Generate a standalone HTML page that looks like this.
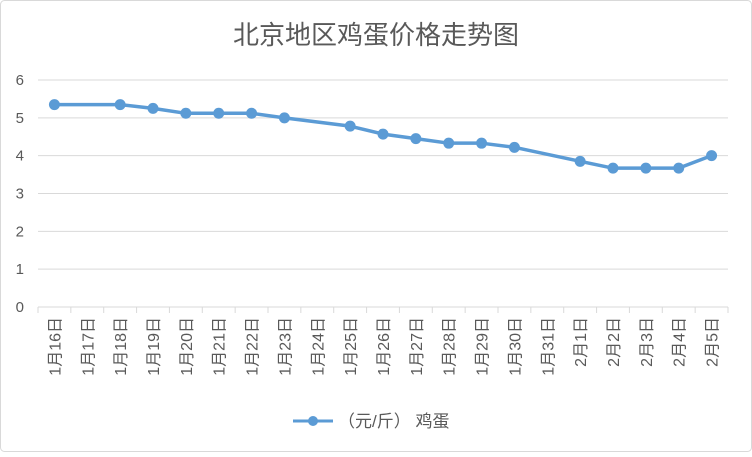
<!DOCTYPE html>
<html><head><meta charset="utf-8"><style>
body{margin:0;background:#fff;}
svg text{font-family:"Liberation Sans","Noto Sans CJK SC",sans-serif;}
</style></head><body>
<svg width="752" height="452" xmlns="http://www.w3.org/2000/svg">
<rect x="0.5" y="0.5" width="751" height="451" rx="4" fill="#fff" stroke="#d9d9d9"/>
<text x="376" y="44" text-anchor="middle" font-size="26" fill="#595959">北京地区鸡蛋价格走势图</text>
<g id="grid"></g><g id="axes"></g><g id="series"></g>
<g>
<line x1="293" y1="421" x2="333" y2="421" stroke="#5b9bd5" stroke-width="3"/>
<circle cx="313" cy="421" r="5" fill="#5b9bd5"/>
<text x="338" y="427" font-size="17" fill="#595959">（元/斤） 鸡蛋</text>
</g>
</svg>
<script>
const categories=["1月16日","1月17日","1月18日","1月19日","1月20日","1月21日","1月22日","1月23日","1月24日","1月25日","1月26日","1月27日","1月28日","1月29日","1月30日","1月31日","2月1日","2月2日","2月3日","2月4日","2月5日"];
const prices=[5.35,null,5.35,5.25,5.12,5.12,5.12,5.0,null,4.78,4.57,4.45,4.33,4.33,4.22,null,3.85,3.67,3.67,3.67,4.0];
const yTicks=[0,1,2,3,4,5,6];
const NS="http://www.w3.org/2000/svg";
const left=38,right=728,y0=307,yTop=80,yMax=6;
const step=(right-left)/categories.length;
function xs(i){return left+step*(i+0.5);}
function ys(v){return y0-(y0-yTop)*v/yMax;}
function mk(tag,attrs,parent){const e=document.createElementNS(NS,tag);for(const k in attrs)e.setAttribute(k,attrs[k]);parent.appendChild(e);return e;}
const grid=document.getElementById('grid'),axes=document.getElementById('axes'),series=document.getElementById('series');
yTicks.forEach(t=>{
 if(t>0){const g=mk('line',{x1:left,x2:right,y1:ys(t),y2:ys(t),stroke:'#d9d9d9'},grid);
 
 }
 const tx=mk('text',{x:24,y:ys(t)+5,'text-anchor':'end','font-size':15,fill:'#595959'},axes);
 tx.textContent=t;
 
 
});
const ax=mk('line',{x1:left,x2:right,y1:y0,y2:y0,stroke:'#d9d9d9'},axes);


for(let i=0;i<=categories.length;i++){
 const tk=mk('line',{x1:left+step*i,x2:left+step*i,y1:y0,y2:y0+6,stroke:'#d9d9d9'},axes);
 
 
}
categories.forEach((c,i)=>{
 const x=xs(i)+6,y=317;
 const t=mk('text',{x:x,y:y,'text-anchor':'end','font-size':16,fill:'#595959',transform:`rotate(-90 ${x} ${y})`},axes);
 t.textContent=c;
 
 
});
let d='';prices.forEach((v,i)=>{if(v==null)return;d+=(d?'L':'M')+xs(i)+' '+ys(v);});
const p=mk('path',{d:d,fill:'none',stroke:'#5b9bd5','stroke-width':3.5,'stroke-linejoin':'round'},series);


prices.forEach((v,i)=>{if(v==null)return;
 const c=mk('circle',{cx:xs(i),cy:ys(v),r:5.5,fill:'#5b9bd5'},series);
 
 
});
</script>
</body></html>
